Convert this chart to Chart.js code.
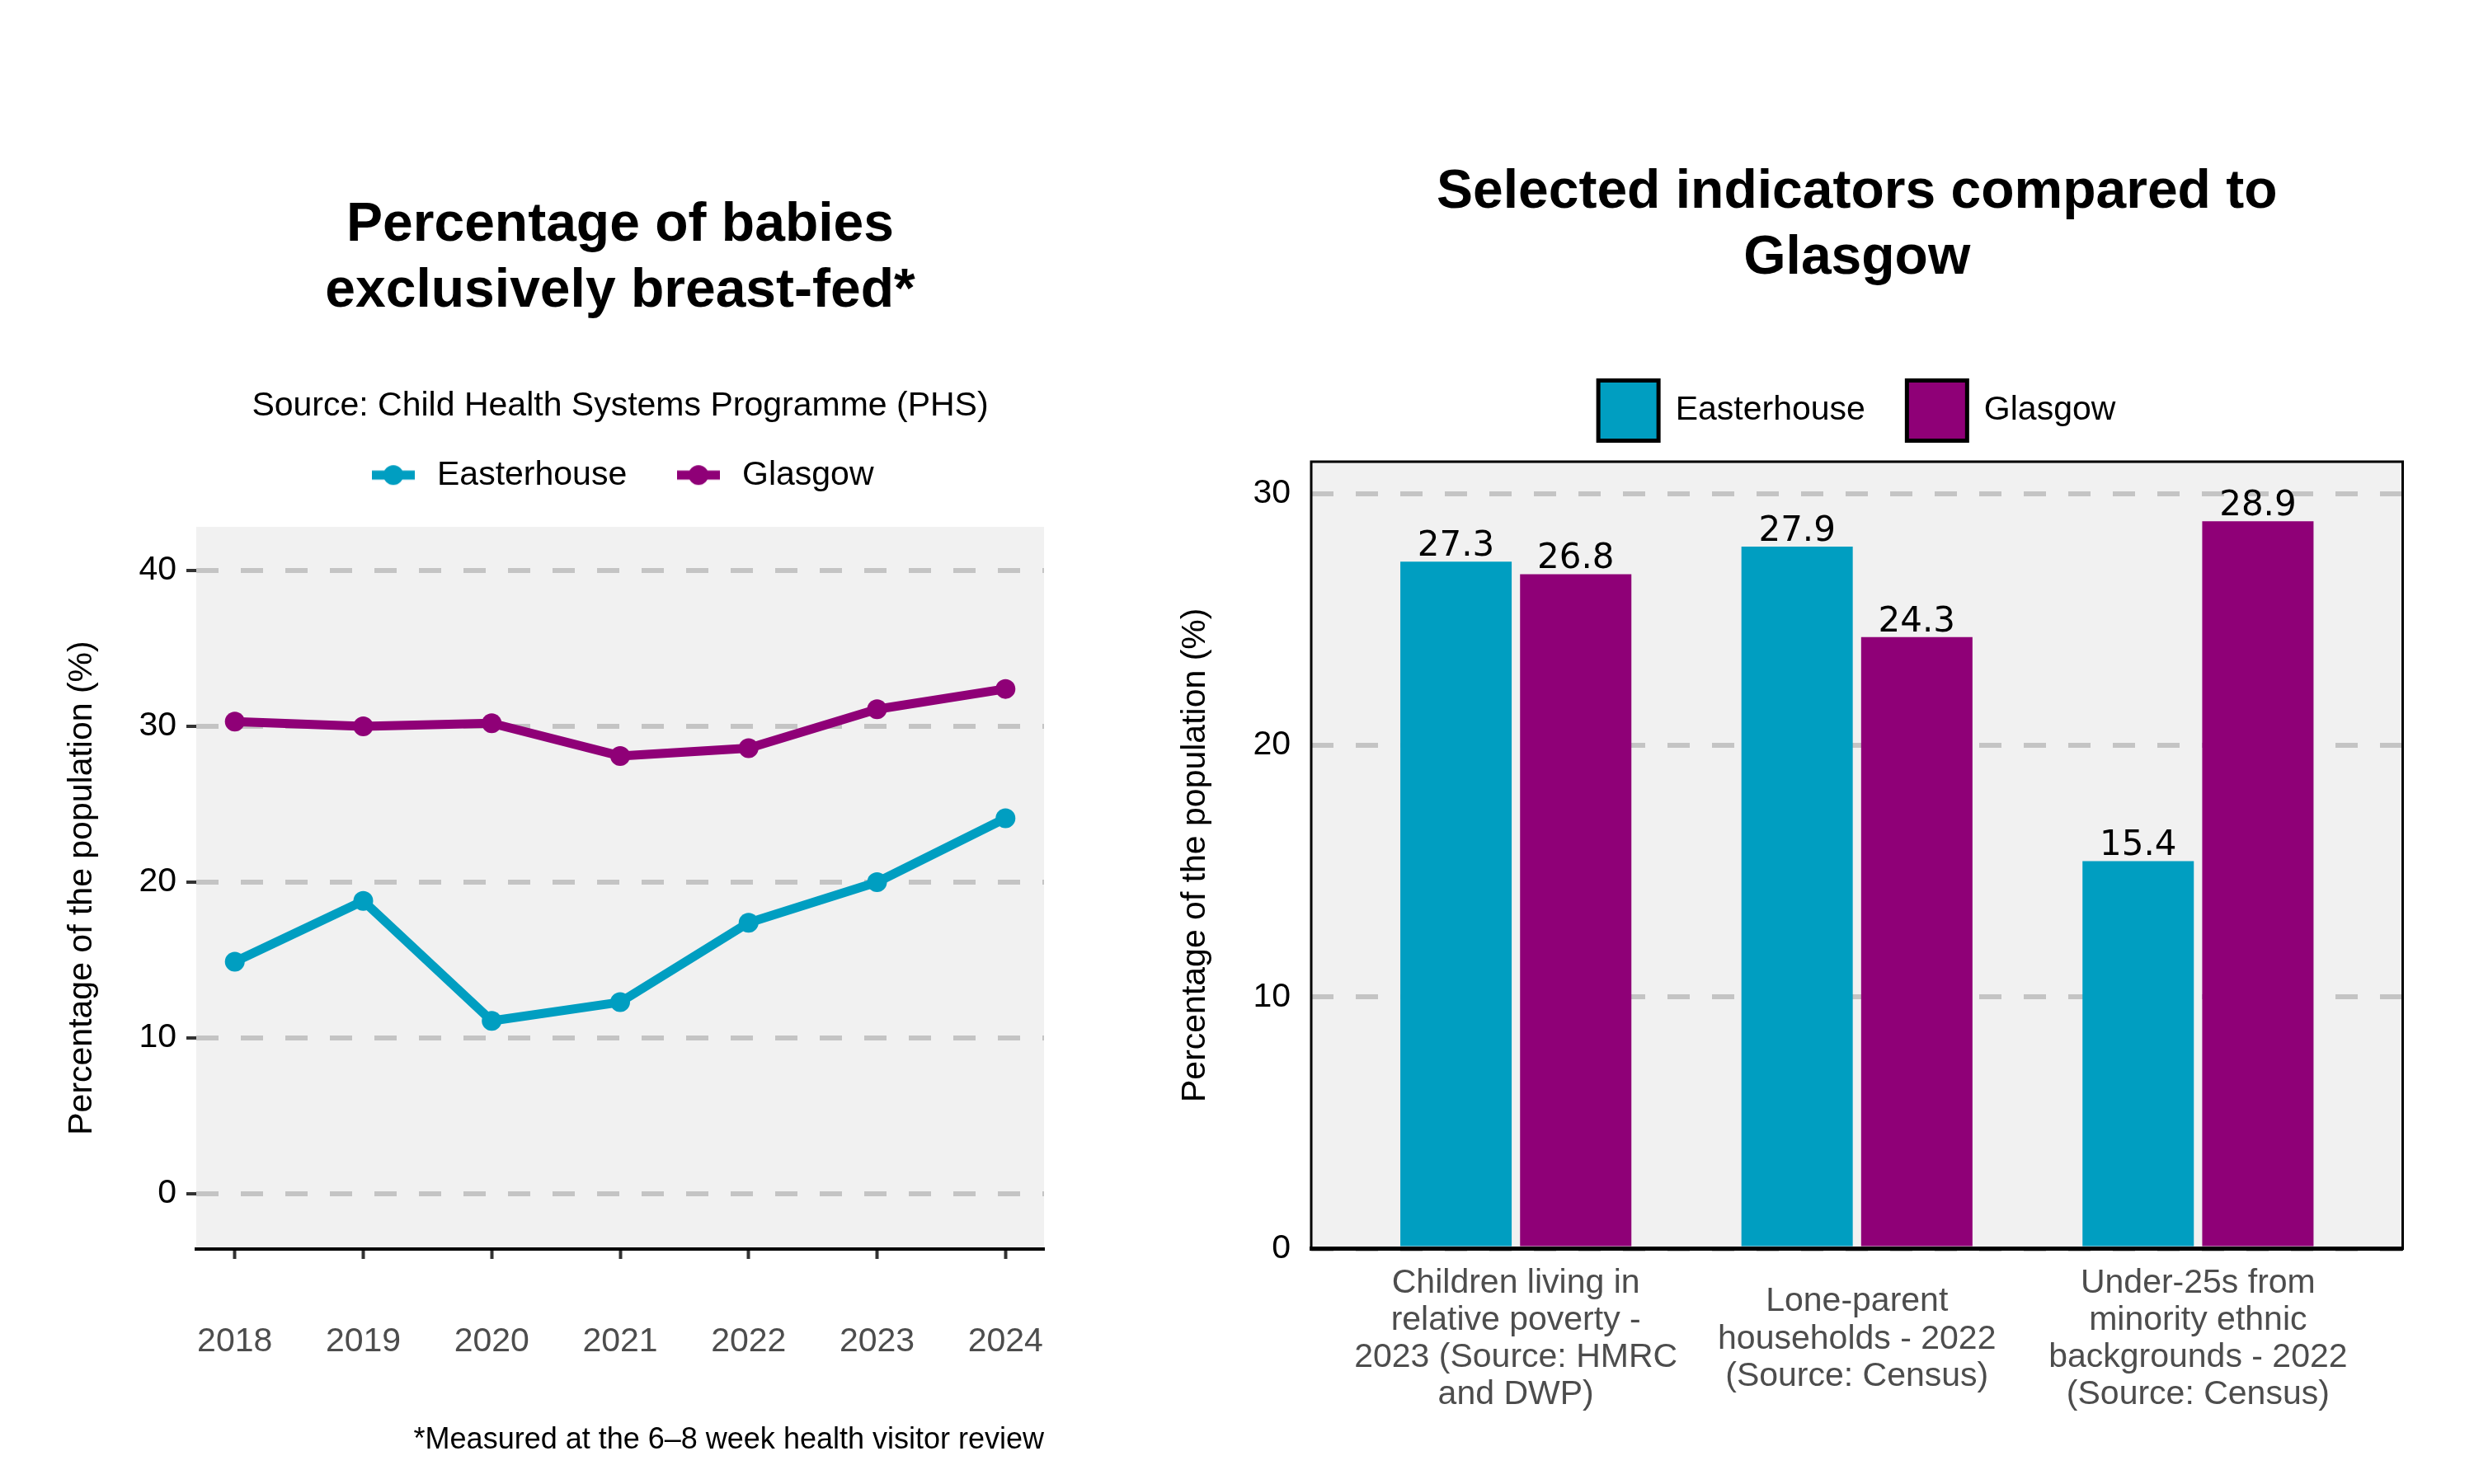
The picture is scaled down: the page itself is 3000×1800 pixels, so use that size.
<!DOCTYPE html>
<html>
<head>
<meta charset="utf-8">
<title>Easterhouse compared to Glasgow</title>
<script src="https://cdn.jsdelivr.net/npm/chart.js@4.4.1/dist/chart.umd.min.js"></script>
<style>
  html, body { margin: 0; padding: 0; background: #ffffff; }
  body { width: 3000px; height: 1800px; position: relative; overflow: hidden; }
  .panel { position: absolute; top: 0; }
  #leftPanel { left: 0; }
  #rightPanel { left: 1400px; }
</style>
</head>
<body>
<div class="panel" id="leftPanel"><canvas id="lineChart" width="1400" height="1800"></canvas></div>
<div class="panel" id="rightPanel"><canvas id="barChart" width="1600" height="1800"></canvas></div>
<script>
// breast-feeding line chart
const years = [2018, 2019, 2020, 2021, 2022, 2023, 2024];
const easterhouseBF = [14.9, 18.8, 11.1, 12.3, 17.4, 20.0, 24.1];
const glasgowBF = [30.3, 30.0, 30.2, 28.1, 28.6, 31.1, 32.4];
const lineYTicks = [0, 10, 20, 30, 40];

// indicators bar chart
const indicators = [
  ["Children living in", "relative poverty -", "2023 (Source: HMRC", "and DWP)"],
  ["Lone-parent", "households - 2022", "(Source: Census)"],
  ["Under-25s from", "minority ethnic", "backgrounds - 2022", "(Source: Census)"],
];
const easterhouseInd = [27.3, 27.9, 15.4];
const glasgowInd = [26.8, 24.3, 28.9];
const barYTicks = [0, 10, 20, 30];

const TEAL = "#009ec1";
const PURPLE = "#8f0077";
const PANEL = "#f1f1f1";
const GRID = "#c4c4c4";

Chart.defaults.font.family = "'Liberation Sans', Arial, Helvetica, sans-serif";
Chart.defaults.color = "#000";

// grey panel behind the plot, optional black frame on top
const panelBg = {
  id: "panelBg",
  beforeDraw(chart, args, opts) {
    const { ctx, chartArea: a } = chart;
    ctx.save();
    ctx.fillStyle = opts.color;
    ctx.fillRect(a.left, a.top, a.width, a.height);
    ctx.restore();
  },
  afterDatasetsDraw(chart, args, opts) {
    if (!opts.frame) return;
    const { ctx, chartArea: a } = chart;
    ctx.save();
    ctx.strokeStyle = "#000";
    ctx.lineWidth = opts.frame;
    ctx.strokeRect(a.left, a.top, a.width, a.height);
    ctx.restore();
  },
};

// value labels above the bars
const barLabels = {
  id: "barLabels",
  afterDatasetsDraw(chart, args, opts) {
    const { ctx } = chart;
    ctx.save();
    ctx.font = opts.font;
    ctx.fillStyle = "#000";
    ctx.textAlign = "center";
    ctx.textBaseline = "alphabetic";
    chart.data.datasets.forEach((ds, di) => {
      chart.getDatasetMeta(di).data.forEach((bar, i) => {
        ctx.fillText(ds.data[i].y.toFixed(1), bar.x, bar.y - opts.offset);
      });
    });
    ctx.restore();
  },
};

// line + dot key, like the ggplot legend
function lineKey(color) {
  const c = document.createElement("canvas");
  c.width = 52;
  c.height = 26;
  const g = c.getContext("2d");
  g.strokeStyle = color;
  g.lineWidth = 11;
  g.beginPath();
  g.moveTo(0, 13);
  g.lineTo(52, 13);
  g.stroke();
  g.fillStyle = color;
  g.beginPath();
  g.arc(26, 13, 12, 0, Math.PI * 2);
  g.fill();
  return c;
}

function lineSeries(label, values, color) {
  return {
    label: label,
    data: years.map((yr, i) => ({ x: yr, y: values[i] })),
    borderColor: color,
    backgroundColor: color,
    borderWidth: 11,
    borderJoinStyle: "round",
    pointRadius: 12,
    pointBorderWidth: 0,
    pointBackgroundColor: color,
    tension: 0,
    xAxisID: "x",
    yAxisID: "y",
  };
}

new Chart(document.getElementById("lineChart"), {
  type: "line",
  data: {
    datasets: [
      lineSeries("Easterhouse", easterhouseBF, TEAL),
      lineSeries("Glasgow", glasgowBF, PURPLE),
    ],
  },
  options: {
    responsive: false,
    animation: false,
    layout: { padding: { top: 0, right: 134, bottom: 35, left: 0 } },
    plugins: {
      title: {
        display: true,
        fullSize: false,
        text: ["Percentage of babies", "exclusively breast-fed*"],
        color: "#000",
        font: { size: 66, weight: "bold", lineHeight: 80 / 66 },
        padding: { top: 234, bottom: 0 },
      },
      subtitle: {
        display: true,
        fullSize: false,
        text: "Source: Child Health Systems Programme (PHS)",
        color: "#000",
        font: { size: 41, lineHeight: 0.45 },
        padding: { top: 89, bottom: 0 },
      },
      legend: {
        fullSize: false,
        labels: {
          usePointStyle: true,
          pointStyleWidth: 65,
          padding: 54.3,
          font: { size: 41 },
          generateLabels: (chart) =>
            chart.data.datasets.map((ds, i) => ({
              text: ds.label,
              pointStyle: lineKey(ds.borderColor),
              fillStyle: ds.borderColor,
              strokeStyle: ds.borderColor,
              lineWidth: 0,
              fontColor: "#000",
              hidden: false,
              datasetIndex: i,
            })),
        },
      },
      tooltip: { enabled: false },
      panelBg: { color: PANEL, frame: 0 },
    },
    scales: {
      x: {
        type: "linear",
        min: 2017.7,
        max: 2024.3,
        afterBuildTicks: (axis) => {
          axis.ticks = years.map((v) => ({ value: v }));
        },
        ticks: {
          callback: (v) => String(v),
          color: "#4d4d4d",
          font: { size: 41 },
          padding: 76.4,
          maxRotation: 0,
          autoSkip: false,
        },
        grid: { drawOnChartArea: false, tickLength: 12, tickColor: "#333", tickWidth: 4 },
        border: { display: true, color: "#000", width: 4 },
        title: {
          display: true,
          text: "*Measured at the 6–8 week health visitor review",
          align: "end",
          color: "#000",
          font: { size: 36, lineHeight: 1 },
          padding: { top: 0, bottom: 0 },
        },
      },
      gap: {
        type: "linear",
        position: "top",
        display: true,
        ticks: { display: false },
        grid: { display: false },
        border: { display: false },
        afterFit: (s) => {
          s.height = 32.3;
        },
      },
      y: {
        min: -3.54,
        max: 42.8,
        afterBuildTicks: (axis) => {
          axis.ticks = lineYTicks.map((v) => ({ value: v }));
        },
        afterFit: (s) => {
          s.width = 238;
        },
        ticks: { color: "#000", font: { size: 41 }, padding: 12 },
        grid: { color: GRID, lineWidth: 6, tickLength: 12, tickColor: "#333", tickWidth: 4, tickBorderDash: [] },
        border: { display: false, dash: [27, 27] },
        title: {
          display: true,
          text: "Percentage of the population (%)",
          color: "#000",
          font: { size: 41 },
          padding: { top: 75.4, bottom: 0 },
        },
      },
    },
  },
  plugins: [panelBg],
});

function barSeries(label, values, color) {
  return {
    label: label,
    data: values.map((v, i) => ({ x: i + 1, y: v })),
    backgroundColor: color,
    borderWidth: 0,
    categoryPercentage: 0.702,
    barPercentage: 0.93,
    xAxisID: "x",
    yAxisID: "y",
  };
}

new Chart(document.getElementById("barChart"), {
  type: "bar",
  data: {
    datasets: [
      barSeries("Easterhouse", easterhouseInd, TEAL),
      barSeries("Glasgow", glasgowInd, PURPLE),
    ],
  },
  options: {
    responsive: false,
    animation: false,
    layout: { padding: { top: 0, right: 86.5, bottom: 21, left: 0 } },
    plugins: {
      title: {
        display: true,
        fullSize: false,
        text: ["Selected indicators compared to", "Glasgow"],
        color: "#000",
        font: { size: 66, weight: "bold", lineHeight: 80 / 66 },
        padding: { top: 194, bottom: 57 },
      },
      legend: {
        fullSize: false,
        labels: {
          boxWidth: 73,
          boxHeight: 73,
          padding: 50.5,
          font: { size: 41 },
          generateLabels: (chart) =>
            chart.data.datasets.map((ds, i) => ({
              text: ds.label,
              fillStyle: ds.backgroundColor,
              strokeStyle: "#000",
              lineWidth: 5,
              fontColor: "#000",
              hidden: false,
              datasetIndex: i,
            })),
        },
      },
      tooltip: { enabled: false },
      panelBg: { color: PANEL, frame: 3 },
      barLabels: { font: "42px 'DejaVu Sans'", offset: 7 },
    },
    scales: {
      x: {
        type: "linear",
        min: 0.4,
        max: 3.6,
        offset: false,
        afterBuildTicks: (axis) => {
          axis.ticks = indicators.map((c, i) => ({ value: i + 1 }));
        },
        ticks: {
          callback: (v) => indicators[v - 1],
          color: "#4d4d4d",
          font: { size: 41, lineHeight: 1.1 },
          padding: 42,
          crossAlign: "center",
          maxRotation: 0,
          autoSkip: false,
        },
        grid: { offset: false, drawOnChartArea: false, drawTicks: false },
        border: { display: true, color: "#000", width: 5, z: 1 },
      },
      gap: {
        type: "linear",
        position: "top",
        display: true,
        ticks: { display: false },
        grid: { display: false },
        border: { display: false },
        afterFit: (s) => {
          s.height = 15.5;
        },
      },
      y: {
        min: 0,
        max: 31.27,
        afterBuildTicks: (axis) => {
          axis.ticks = barYTicks.map((v) => ({ value: v }));
        },
        afterFit: (s) => {
          s.width = 190;
        },
        ticks: { color: "#000", font: { size: 41 }, padding: 25 },
        grid: { color: GRID, lineWidth: 6, drawTicks: false },
        border: { display: false, dash: [27, 27] },
        title: {
          display: true,
          text: "Percentage of the population (%)",
          color: "#000",
          font: { size: 41 },
          padding: { top: 25.4, bottom: 0 },
        },
      },
    },
  },
  plugins: [panelBg, barLabels],
});
</script>
</body>
</html>
